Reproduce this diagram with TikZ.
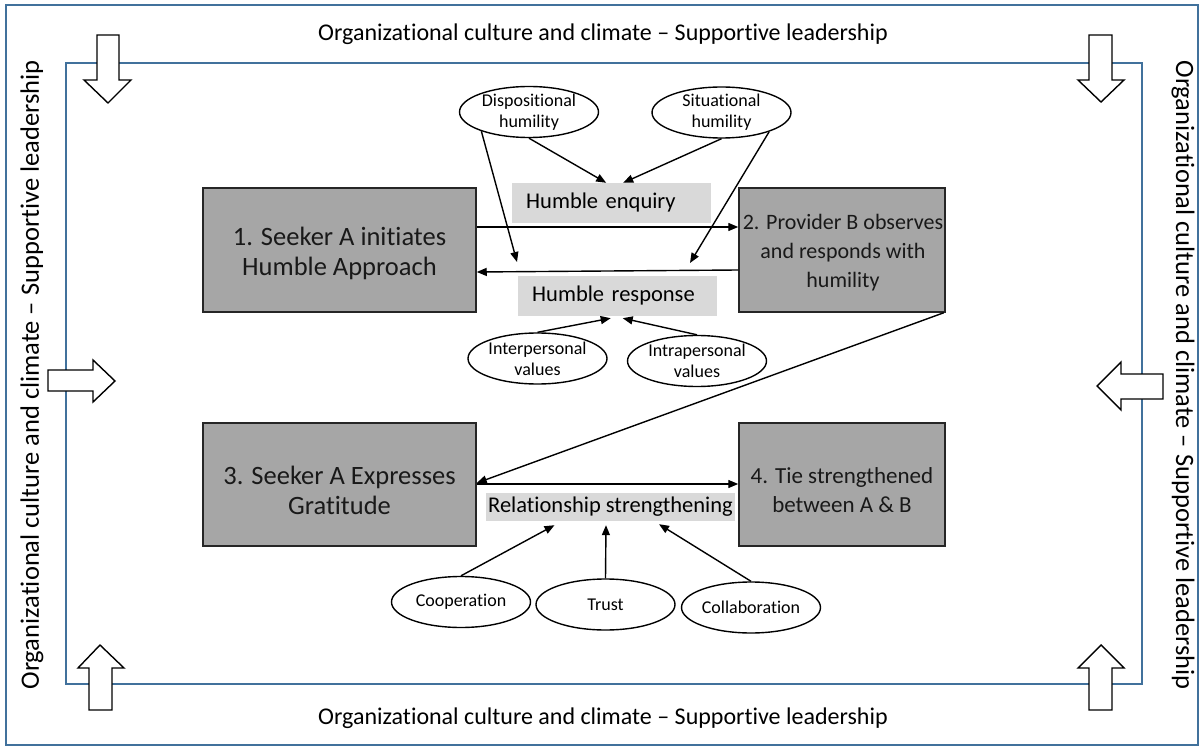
\documentclass[tikz,border=0pt]{standalone}
\usepackage{fontspec}
\setmainfont{Carlito}[Ligatures=NoCommon]
\usetikzlibrary{calc,arrows.meta,shapes.geometric}
\definecolor{frameblue}{HTML}{41719C}
\definecolor{boxgray}{HTML}{A6A6A6}
\definecolor{labelgray}{HTML}{D9D9D9}
\begin{document}
\begin{tikzpicture}[x=1pt,y=-1pt,
  stagebox/.style={draw=black!85, line width=1.5pt, fill=boxgray, minimum width=#1, minimum height=124pt, inner sep=0pt},
  stagetext/.style={inner sep=0pt, align=center, text=black!90},
  bigtext/.style={font=\fontsize{26.5}{30}\selectfont},
  smalltext/.style={font=\fontsize{#1}{29}\selectfont},
  factor/.style={ellipse, draw=black, line width=1.4pt, fill=white, minimum width=139pt, minimum height=51pt, inner sep=-20pt, align=center, font=\fontsize{18}{21}\selectfont},
  tag/.style={fill=labelgray, inner sep=0pt, minimum height=#1, font=\fontsize{22.5}{26}\selectfont},
  conn/.style={-{Triangle[length=10pt,width=8pt]}, line width=1.4pt},
  frameline/.style={draw=frameblue, line width=1.6pt},
  blockarrow/.style={draw=black, fill=white, line width=1.4pt, line join=miter},
  sidetext/.style={font=\fontsize{26.5}{30}\selectfont}
]
\useasboundingbox (0,0) rectangle (1204,751);
\fill[white] (0,0) rectangle (1204,751);
% frames
\draw[frameline] (6,5) rectangle (1198,745);
\draw[frameline] (66,63) rectangle (1142,684);
% context texts
\node[font=\fontsize{24}{28}\selectfont] (ttop) at (603,34) {Organizational culture and climate – Supportive leadership};
\node[font=\fontsize{24}{28}\selectfont] (tbot) at (603,718) {Organizational culture and climate – Supportive leadership};
\node[sidetext, rotate=90] (tleft) at (32,375) {Organizational culture and climate – Supportive leadership};
\node[sidetext, rotate=-90] (tright) at (1183,375) {Organizational culture and climate – Supportive leadership};
% block arrows
\draw[blockarrow] (97,35) -- (119,35) -- (119,80) -- (131,80) -- (108,103) -- (84,80) -- (97,80) -- cycle;
\draw[blockarrow] (1089,35) -- (1112,35) -- (1112,80) -- (1124,80) -- (1101,102) -- (1078,80) -- (1089,80) -- cycle;
\draw[blockarrow] (48,370) -- (93,370) -- (93,360) -- (115,381) -- (93,402) -- (93,391) -- (48,391) -- cycle;
\draw[blockarrow] (1163,374) -- (1121,374) -- (1121,362) -- (1097,386) -- (1121,410) -- (1121,399) -- (1163,399) -- cycle;
\draw[blockarrow] (89,710) -- (89,668) -- (78,668) -- (100,645) -- (124,668) -- (112,668) -- (112,710) -- cycle;
\draw[blockarrow] (1089,710) -- (1089,668) -- (1078,668) -- (1101,645) -- (1124,668) -- (1112,668) -- (1112,710) -- cycle;
% stage boxes
\node[stagebox=273pt] (b1) at (339.5,250) {};
\node[stagebox=206pt] (b2) at (842,250) {};
\node[stagebox=273pt, minimum height=123pt] (b3) at (339.5,484.5) {};
\node[stagebox=206pt, minimum height=123pt] (b4) at (842,484.5) {};
\node[stagetext, bigtext] (b1t) at ($(b1.center)+(0,3)$) {1. Seeker A initiates\\Humble Approach};
\node[stagetext, smalltext=22] (b2t) at ($(b2.center)+(1,3)$) {2. Provider B observes\\and responds with\\humility};
\node[stagetext, bigtext] (b3t) at ($(b3.center)+(0,6)$) {3. Seeker A Expresses\\Gratitude};
\node[stagetext, smalltext=23] (b4t) at ($(b4.center)+(0,6)$) {4. Tie strengthened\\between A \& B};
% labels
\node[tag=40pt, anchor=west, minimum width=199pt, text width=171pt, inner xsep=14pt, align=left] (enq) at (512,203) {Humble enquiry};
\node[tag=40pt, anchor=west, minimum width=199pt, text width=171pt, inner xsep=14pt, align=left] (resp) at (518,296) {Humble response};
\node[tag=28pt, minimum width=249pt] (rel) at (610.5,507) {Relationship strengthening};
% ellipses
\node[factor] (disp) at (529,112) {Dispositional\\humility};
\node[factor] (sit) at (721.5,112.5) {Situational\\humility};
\node[factor] (inter) at (537.5,358.5) {Interpersonal\\values};
\node[factor] (intra) at (697,361) {Intrapersonal\\values};
\node[factor] (coop) at (461,602) {Cooperation};
\node[factor] (trust) at (605.5,604.5) {Trust};
\node[factor] (collab) at (751,607.5) {Collaboration};
% free ends
\coordinate (dispend) at (517,262);
\coordinate (sitend) at (690,263);
% connectors
\draw[conn] (b1.east |- 0,227) -- (b2.west |- 0,227);
\draw[conn] (b2.west |- 0,270) -- (b1.east |- 0,272);
\draw[conn] (disp.south) -- ($(enq.north)+(-5.5,0)$);
\draw[conn] (sit.south) -- ($(enq.north)+(11.5,0)$);
\draw[conn] (disp.-158) -- (dispend);
\draw[conn] (sit.-22) -- (sitend);
\draw[conn] (inter.north) -- ($(resp.south)+(-7,2)$);
\draw[conn] (intra.north) -- ($(resp.south)+(5,2)$);
\draw[conn] ($(b2.south east)+(-2,0)$) -- (b3.east |- 0,483);
\draw[conn] (b3.east |- 0,484) -- (b4.west |- 0,484);
\draw[conn] (coop.north) -- ($(rel.south)+(-56,4)$);
\draw[conn] (trust.north) -- ($(rel.south)+(-4.5,4)$);
\draw[conn] (collab.north) -- ($(rel.south)+(48.5,3)$);
\end{tikzpicture}
\end{document}
